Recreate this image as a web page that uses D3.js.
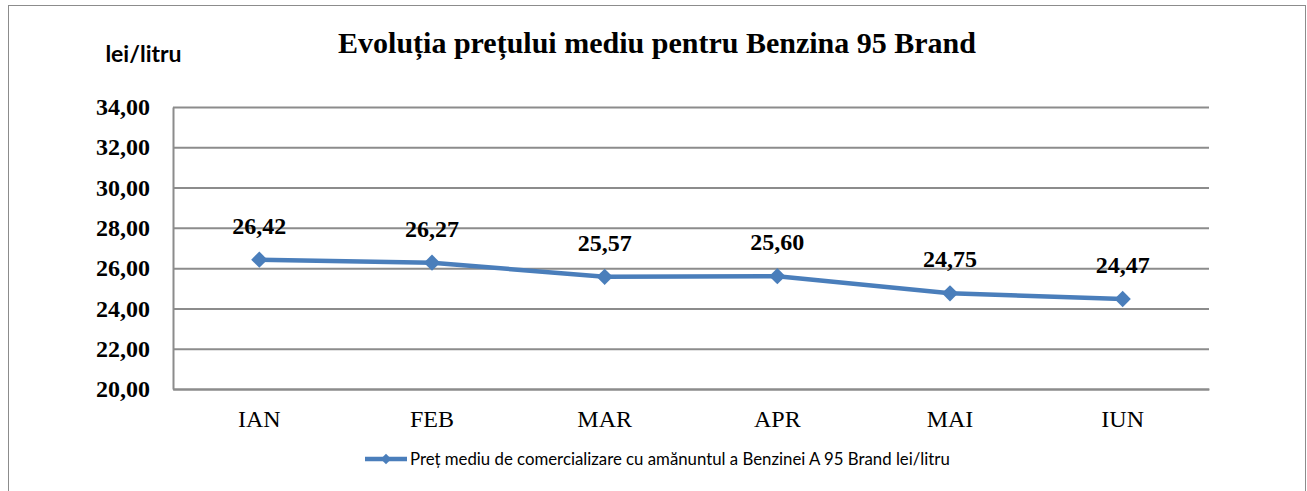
<!DOCTYPE html>
<html>
<head>
<meta charset="utf-8">
<script src="https://cdn.jsdelivr.net/npm/d3@7"></script>
<style>
  body { margin: 0; background: #fff; }
  svg { display: block; }
</style>
</head>
<body>
<svg id="chart" width="1307" height="491"></svg>
<script>
// date
const months = ["IAN", "FEB", "MAR", "APR", "MAI", "IUN"];
const prices = [26.42, 26.27, 25.57, 25.60, 24.75, 24.47];
const yTicks = [20, 22, 24, 26, 28, 30, 32, 34];

const chartTitle = "Evoluția prețului mediu pentru Benzina 95 Brand";
const unitLabel = "lei/litru";
const legendLabel = "Preț mediu de comercializare cu amănuntul a Benzinei A 95 Brand lei/litru";

const W = 1307, H = 491;
const plot = { left: 173, right: 1209, top: 107, bottom: 389 };
const lineColor = "#4a7ebb";
const serif = "'Liberation Serif', 'Times New Roman', serif";
const sans = "Lato, 'Open Sans', sans-serif";
const fmt = v => v.toFixed(2).replace(".", ",");

const svg = d3.select("#chart");

// chenarul exterior
svg.append("rect")
    .attr("x", 8.5).attr("y", 5.5)
    .attr("width", W - 10).attr("height", H)
    .attr("fill", "none")
    .attr("stroke", "#8c8c8c")
    .attr("stroke-width", 1);

const x = d3.scaleBand().domain(months).range([plot.left, plot.right]);
const y = d3.scaleLinear().domain([20, 34]).range([plot.bottom, plot.top]);

// grila orizontala
svg.append("g")
    .attr("class", "grid")
    .attr("transform", `translate(${plot.left},0)`)
    .call(d3.axisRight(y).tickValues(yTicks).tickSize(plot.right - plot.left).tickFormat(""))
    .call(g => g.select(".domain").remove())
    .selectAll("line")
    .attr("stroke", "#8c8c8c")
    .attr("stroke-width", 2);

// axa Y
const yAxis = svg.append("g")
    .attr("transform", `translate(${plot.left},0)`)
    .call(d3.axisLeft(y).tickValues(yTicks).tickSize(0).tickPadding(23).tickFormat(fmt));
yAxis.select(".domain").attr("stroke", "#8c8c8c").attr("stroke-width", 2);
yAxis.selectAll("text")
    .attr("font-family", serif)
    .attr("font-size", 24)
    .attr("font-weight", "bold")
    .attr("fill", "#000");

// axa X
const xAxis = svg.append("g")
    .attr("transform", `translate(0,${plot.bottom})`)
    .call(d3.axisBottom(x).tickSize(0));
xAxis.select(".domain").attr("stroke", "#8c8c8c").attr("stroke-width", 2);
xAxis.selectAll("text")
    .attr("y", 38)
    .attr("dy", null)
    .attr("font-family", serif)
    .attr("font-size", 24)
    .attr("fill", "#000");

// linia
const cx = (d, i) => x(months[i]) + x.bandwidth() / 2;
const line = d3.line().x(cx).y(d => y(d));

svg.append("path")
    .datum(prices)
    .attr("d", line)
    .attr("fill", "none")
    .attr("stroke", lineColor)
    .attr("stroke-width", 4.5)
    .attr("stroke-linejoin", "round");

const diamond = d3.symbol().type(d3.symbolDiamond2).size(170);

svg.selectAll(".marker")
    .data(prices)
    .enter()
    .append("path")
    .attr("class", "marker")
    .attr("transform", (d, i) => `translate(${cx(d, i)},${y(d)})`)
    .attr("d", diamond)
    .attr("fill", lineColor);

// etichete valori
svg.selectAll(".label")
    .data(prices)
    .enter()
    .append("text")
    .attr("class", "label")
    .attr("x", cx)
    .attr("y", d => y(d) - 26)
    .attr("text-anchor", "middle")
    .attr("font-family", serif)
    .attr("font-size", 24)
    .attr("font-weight", "bold")
    .text(fmt);

// titlu
svg.append("text")
    .attr("x", 657).attr("y", 53)
    .attr("text-anchor", "middle")
    .attr("font-family", serif)
    .attr("font-size", 30)
    .attr("font-weight", "bold")
    .text(chartTitle);

svg.append("text")
    .attr("x", 143.5).attr("y", 62)
    .attr("text-anchor", "middle")
    .attr("font-family", sans)
    .attr("font-size", 23)
    .attr("font-weight", "bold")
    .text(unitLabel);

// legenda
const legend = svg.append("g").attr("transform", "translate(365,459)");
legend.append("line")
    .attr("x1", 0).attr("x2", 42)
    .attr("stroke", lineColor)
    .attr("stroke-width", 4.5);
legend.append("path")
    .attr("transform", "translate(21,0)")
    .attr("d", d3.symbol().type(d3.symbolDiamond2).size(70))
    .attr("fill", lineColor);
legend.append("text")
    .attr("x", 45).attr("y", 6)
    .attr("font-family", sans)
    .attr("font-size", 16.8)
    .attr("fill", "#000")
    .text(legendLabel);
</script>
</body>
</html>
